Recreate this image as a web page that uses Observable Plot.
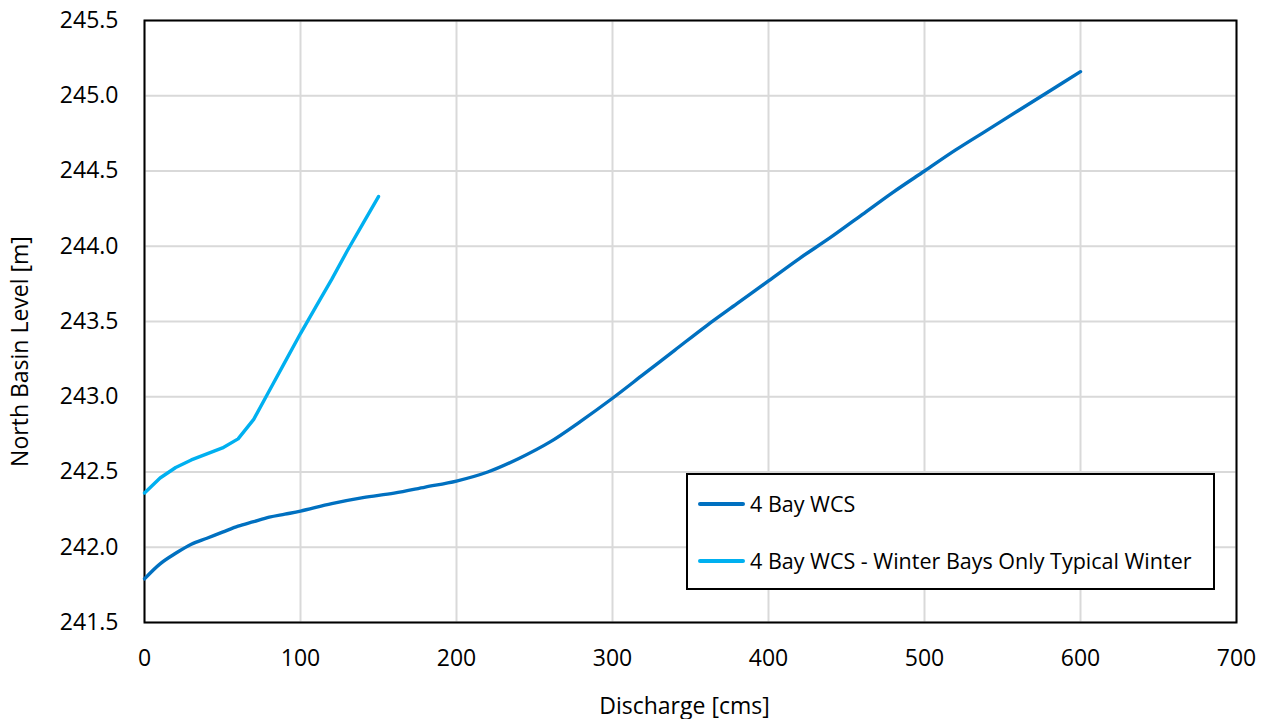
<!DOCTYPE html>
<html>
<head>
<meta charset="utf-8">
<script src="https://cdn.jsdelivr.net/npm/d3@7"></script>
<script src="https://cdn.jsdelivr.net/npm/@observablehq/plot@0.6"></script>
<style>
  html, body { margin: 0; padding: 0; background: #fff; }
  #wrap { position: relative; width: 1267px; height: 719px; font-family: "Open Sans", sans-serif; }
  #legend { position: absolute; left: 686px; top: 473px; width: 525px; height: 113px; border: 2px solid #000; background: #fff; box-sizing: content-box; }
  .item { position: absolute; left: 10px; display: flex; align-items: center; font-size: 21.5px; color: #000; white-space: nowrap; }
  .sw { width: 47px; height: 4px; margin-right: 5px; border-radius: 2px; }
</style>
</head>
<body>
<div id="wrap"></div>
<script>
const seriesNames = ["4 Bay WCS", "4 Bay WCS - Winter Bays Only Typical Winter"];
const seriesColors = ["#0070C0", "#00B0F0"];

const discharge1 = [0, 10, 20, 30, 40, 50, 60, 70, 80, 90, 100, 120, 140, 160, 180, 200, 220, 240, 260, 280, 300, 320, 340, 360, 380, 400, 420, 440, 460, 480, 500, 520, 540, 560, 580, 600];
const level1 = [241.79, 241.89, 241.96, 242.02, 242.06, 242.10, 242.14, 242.17, 242.20, 242.22, 242.24, 242.29, 242.33, 242.36, 242.40, 242.44, 242.50, 242.59, 242.70, 242.84, 242.99, 243.15, 243.31, 243.47, 243.62, 243.77, 243.92, 244.06, 244.21, 244.36, 244.50, 244.64, 244.77, 244.90, 245.03, 245.16];

const discharge2 = [0, 10, 20, 30, 40, 50, 60, 70, 80, 90, 100, 110, 120, 130, 140, 150];
const level2 = [242.36, 242.46, 242.53, 242.58, 242.62, 242.66, 242.72, 242.85, 243.04, 243.23, 243.42, 243.60, 243.78, 243.97, 244.15, 244.33];

const xTicks = [0, 100, 200, 300, 400, 500, 600, 700];
const yTicks = [241.5, 242.0, 242.5, 243.0, 243.5, 244.0, 244.5, 245.0, 245.5];
const xTitle = "Discharge [cms]";
const yTitle = "North Basin Level [m]";

const s1 = discharge1.map((d, i) => ({x: d, y: level1[i]}));
const s2 = discharge2.map((d, i) => ({x: d, y: level2[i]}));

const chart = Plot.plot({
  width: 1267,
  height: 719,
  marginLeft: 144,
  marginRight: 31,
  marginTop: 20,
  marginBottom: 97,
  style: {fontFamily: "Open Sans, sans-serif", fontSize: "23px", color: "#000", background: "#fff"},
  x: {domain: [0, 700], ticks: xTicks},
  y: {domain: [241.5, 245.5], ticks: yTicks},
  marks: [
    Plot.gridX(xTicks, {stroke: "#d9d9d9", strokeOpacity: 1, strokeWidth: 2}),
    Plot.gridY(yTicks, {stroke: "#d9d9d9", strokeOpacity: 1, strokeWidth: 2}),
    Plot.frame({stroke: "#000", strokeWidth: 2}),
    Plot.axisX(xTicks, {tickSize: 0, tickPadding: 27, label: null, fontSize: 23, tickFormat: d => d.toString()}),
    Plot.axisY(yTicks, {tickSize: 0, tickPadding: 26, label: null, fontSize: 23, tickFormat: d => d.toFixed(1)}),
    Plot.line(s1, {x: "x", y: "y", stroke: seriesColors[0], strokeWidth: 3.4, curve: "catmull-rom"}),
    Plot.line(s2, {x: "x", y: "y", stroke: seriesColors[1], strokeWidth: 3.4}),
    Plot.text([xTitle], {frameAnchor: "bottom", textAnchor: "middle", dx: -6, dy: 91, fontSize: 23, fill: "#000"}),
    Plot.text([yTitle], {frameAnchor: "left", textAnchor: "middle", dx: -124, dy: 30, rotate: -90, fontSize: 23, fill: "#000"})
  ]
});

const wrap = document.getElementById("wrap");
wrap.appendChild(chart);

const legend = document.createElement("div");
legend.id = "legend";
const tops = [14, 71];
seriesNames.forEach((name, i) => {
  const item = document.createElement("div");
  item.className = "item";
  item.style.top = tops[i] + "px";
  const sw = document.createElement("span");
  sw.className = "sw";
  sw.style.background = seriesColors[i];
  const t = document.createElement("span");
  t.textContent = name;
  item.appendChild(sw);
  item.appendChild(t);
  legend.appendChild(item);
});
wrap.appendChild(legend);
</script>
</body>
</html>
